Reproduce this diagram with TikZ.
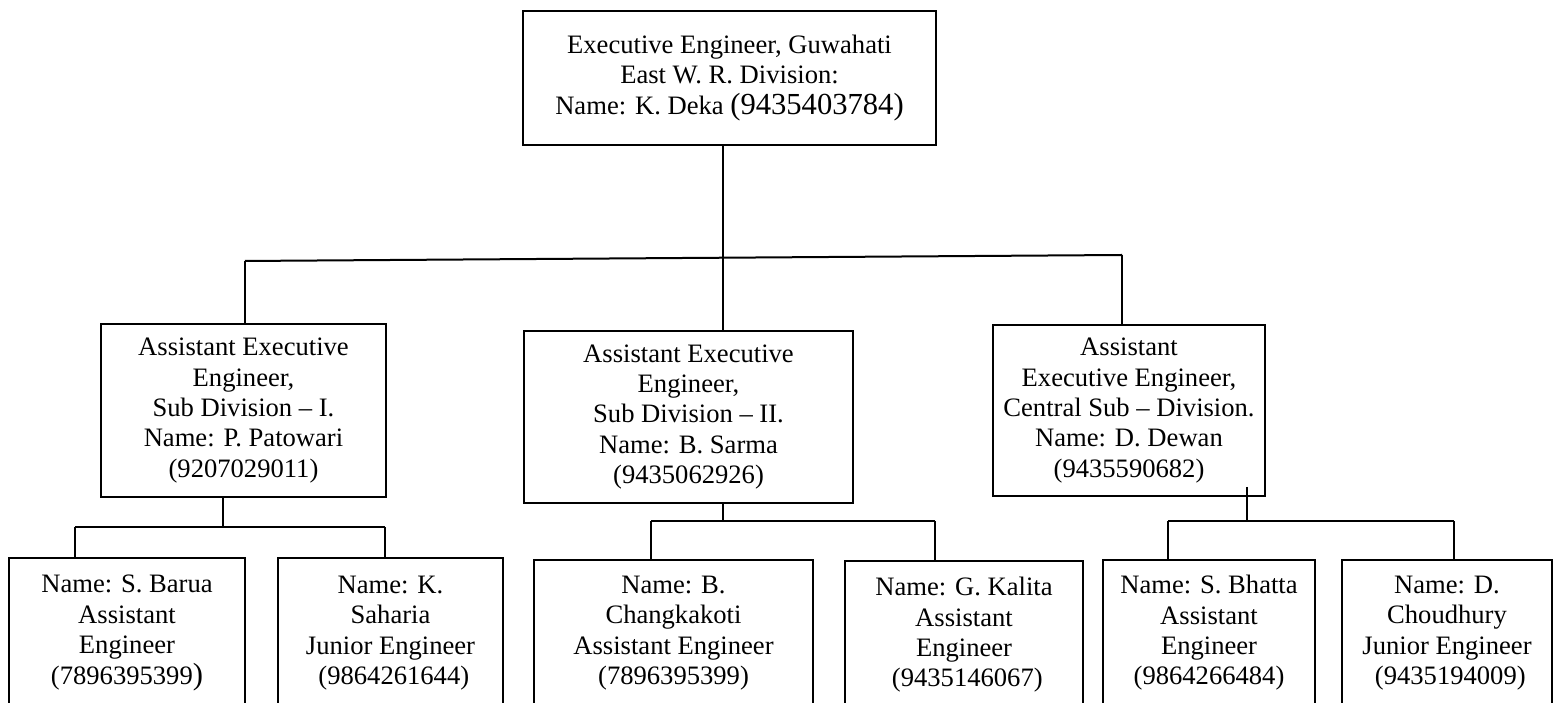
\documentclass[tikz,border=0pt]{standalone}
\usepackage{fontspec}
\setmainfont{Liberation Serif}
\newcommand\mainsz{\fontsize{13.3}{15.2}\selectfont}
\newcommand\bigsz{\fontsize{15.3}{15.2}\selectfont}
\newcommand\orgbox[6]{\node[box, minimum width={(#4-#2)*0.5pt}, minimum height={(#5-#3)*0.5pt}] (#1) at (#2,#3) {#6};}
% open-bottom box (its lower edge is cut off by the page): text node at (cx,cy), outline drawn round it
\newcommand\openbox[6]{%
  \node[txt] (#1) at ({(#2+#4)/2},#5) {#6};
  \coordinate (#1-n) at ({(#2+#4)/2},#3);
  \draw[boxline] (#2,703) |- (#4,#3) -- (#4,703);}
\begin{document}
\begin{tikzpicture}[x=0.5pt,y=-0.5pt,
  box/.style={draw, line width=1pt, rectangle, inner sep=0pt, anchor=north west, align=center, font=\mainsz},
  txt/.style={inner sep=0pt, align=center, font=\mainsz},
  boxline/.style={line width=1pt, line join=miter, line cap=butt},
  conn/.style={line width=1pt}]
\useasboundingbox (0,0) rectangle (1553,704);
% boxes
\orgbox{top}{522}{10}{935}{144}{Executive Engineer, Guwahati\\East W. R. Division:\\Name: K. Deka {\bigsz(9435403784)}}
\orgbox{L1}{100}{323}{385}{496}{Assistant Executive\\Engineer,\\Sub Division -- I.\\Name: P. Patowari\\(9207029011)}
\orgbox{M1}{523}{330}{852}{502}{Assistant Executive\\Engineer,\\Sub Division -- II.\\Name: B. Sarma\\(9435062926)}
\orgbox{R1}{992}{324}{1264}{495}{Assistant\\Executive Engineer,\\Central Sub -- Division.\\Name: D. Dewan\\(9435590682)}
\openbox{BL1}{9}{558}{245}{633}{Name: S. Barua\\Assistant\\Engineer\\(7896395399{\bigsz)}}
\openbox{BL2}{278}{558}{503}{633}{Name: K.\\Saharia\\Junior Engineer\\\ (9864261644)}
\openbox{BM1}{534}{560}{813}{633}{Name: B.\\Changkakoti\\Assistant Engineer\\(7896395399)}
\openbox{BM2}{845}{561}{1083}{635}{Name: G. Kalita\\Assistant\\Engineer\\\ (9435146067)}
\openbox{BR1}{1103}{560}{1315}{633}{Name: S. Bhatta\\Assistant\\Engineer\\(9864266484)}
\openbox{BR2}{1342}{560}{1552}{633}{Name: D.\\Choudhury\\Junior Engineer\\\ (9435194009)}
% main connectors
\coordinate (vTop) at (723,258);
\coordinate (hL) at (245,261);
\coordinate (hR) at (1122,255);
\draw[conn] (vTop |- top.south) -- (vTop |- M1.north);
\draw[conn] (hL) -- (hR);
\draw[conn] (hL) -- (hL |- L1.north);
\draw[conn] (hR) -- (hR |- R1.north);
% sub division I
\coordinate (jL) at (223,527);
\coordinate (jLa) at (75,527);
\coordinate (jLb) at (385,527);
\draw[conn] (jL |- L1.south) -- (jL);
\draw[conn] (jLa) -- (jLb);
\draw[conn] (jLa) -- (jLa |- BL1-n);
\draw[conn] (jLb) -- (jLb |- BL2-n);
% sub division II
\coordinate (jM) at (723,521);
\coordinate (jMa) at (651,521);
\coordinate (jMb) at (935,521);
\draw[conn] (jM |- M1.south) -- (jM);
\draw[conn] (jMa) -- (jMb);
\draw[conn] (jMa) -- (jMa |- BM1-n);
\draw[conn] (jMb) -- (jMb |- BM2-n);
% central sub division
\coordinate (jR) at (1247,521);
\coordinate (jRa) at (1168,521);
\coordinate (jRb) at (1454,521);
\draw[conn] ([yshift=5pt]jR |- R1.south) -- (jR);
\draw[conn] (jRa) -- (jRb);
\draw[conn] (jRa) -- (jRa |- BR1-n);
\draw[conn] (jRb) -- (jRb |- BR2-n);
\end{tikzpicture}
\end{document}
